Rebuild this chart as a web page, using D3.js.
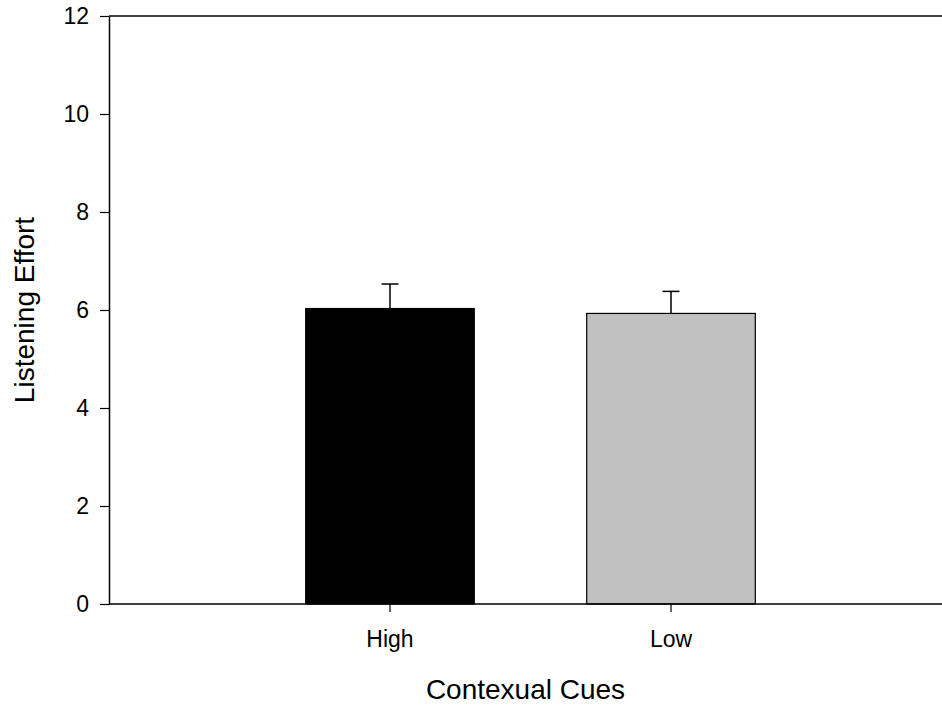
<!DOCTYPE html>
<html>
<head>
<meta charset="utf-8">
<script src="https://cdn.jsdelivr.net/npm/d3@7"></script>
<style>
  html, body { margin: 0; padding: 0; background: #fff; }
  svg { display: block; font-family: "Liberation Sans", Arial, sans-serif; }
</style>
</head>
<body>
<div id="chart"></div>
<script>
const width = 942;
const height = 706;

// data
const categories = ["High", "Low"];
const means = [6.03, 5.93];
const errors = [0.50, 0.45];
const barColors = ["#000000", "#c0c0c0"];
const yTicks = [0, 2, 4, 6, 8, 10, 12];

const margin = { top: 16, left: 109, bottom: 102 };
const plotRight = 952; // frame runs off the right edge

const svg = d3.select("#chart").append("svg")
  .attr("width", width)
  .attr("height", height);

const y = d3.scaleLinear()
  .domain([0, 12])
  .range([height - margin.bottom, margin.top]);

const step = (plotRight - margin.left) / 3;
const x = d3.scaleBand()
  .domain(categories)
  .range([margin.left + step / 2, plotRight - step / 2])
  .paddingInner(0.4)
  .paddingOuter(0.2);

// bars
svg.append("g")
  .selectAll("rect")
  .data(categories)
  .join("rect")
  .attr("x", d => x(d))
  .attr("y", (d, i) => y(means[i]))
  .attr("width", x.bandwidth())
  .attr("height", (d, i) => y(0) - y(means[i]))
  .attr("fill", (d, i) => barColors[i])
  .attr("stroke", "#000")
  .attr("stroke-width", 1.2);

// error bars (upper only)
const err = svg.append("g")
  .attr("stroke", "#000")
  .attr("stroke-width", 1.5)
  .selectAll("g")
  .data(categories)
  .join("g")
  .attr("transform", d => `translate(${x(d) + x.bandwidth() / 2},0)`);

err.append("line")
  .attr("y1", (d, i) => y(means[i]))
  .attr("y2", (d, i) => y(means[i] + errors[i]));

err.append("line")
  .attr("x1", -8.5)
  .attr("x2", 8.5)
  .attr("y1", (d, i) => y(means[i] + errors[i]))
  .attr("y2", (d, i) => y(means[i] + errors[i]));

// top frame line
svg.append("line")
  .attr("x1", margin.left)
  .attr("x2", plotRight)
  .attr("y1", y(12))
  .attr("y2", y(12))
  .attr("stroke", "#000")
  .attr("stroke-width", 1.5);

// y axis
const yAxis = svg.append("g")
  .attr("transform", `translate(${margin.left},0)`)
  .call(d3.axisLeft(y).tickValues(yTicks).tickSize(9).tickPadding(11).tickSizeOuter(0));
yAxis.select(".domain").attr("stroke-width", 1.5);
yAxis.selectAll(".tick line").attr("stroke-width", 1.2);
yAxis.selectAll("text")
  .style("font-size", "23px")
  .attr("fill", "#000");

// x axis
const xAxis = svg.append("g")
  .attr("transform", `translate(0,${y(0)})`)
  .call(d3.axisBottom(x).tickSize(8).tickPadding(19).tickSizeOuter(0));
xAxis.select(".domain").attr("d", `M${margin.left},0H${plotRight}`).attr("stroke-width", 1.5);
xAxis.selectAll(".tick line").attr("stroke-width", 1.2);
xAxis.selectAll("text")
  .style("font-size", "23px")
  .attr("fill", "#000");

// axis titles
svg.append("text")
  .attr("x", (margin.left + width) / 2)
  .attr("y", 699)
  .attr("text-anchor", "middle")
  .style("font-size", "28px")
  .text("Contexual Cues");

svg.append("text")
  .attr("transform", `translate(34,${y(6)}) rotate(-90)`)
  .attr("text-anchor", "middle")
  .style("font-size", "28px")
  .text("Listening Effort");
</script>
</body>
</html>
